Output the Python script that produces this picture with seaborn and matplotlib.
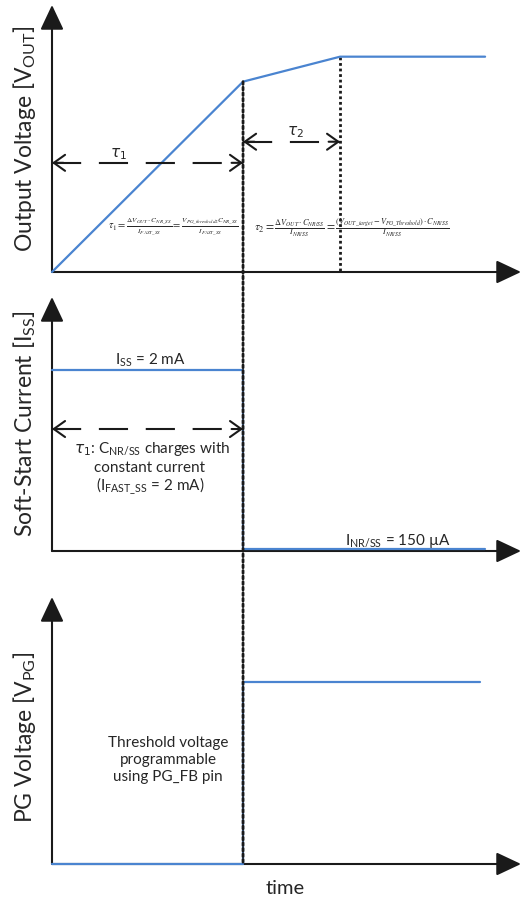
import matplotlib
matplotlib.use("Agg")
import matplotlib.pyplot as plt
import seaborn as sns
import pandas as pd
from matplotlib.patches import ConnectionPatch

# ---------------- data (schematic timing diagram, arbitrary units) ----------------
time_vout = [0.0, 1.0, 1.508, 2.267]
vout = [0.0, 0.884, 1.0, 1.0]
time_iss = [0.0, 1.0, 1.0, 2.267]
iss_mA = [2.0, 2.0, 0.022, 0.022]
time_pg = [0.0, 1.0, 1.0, 2.241]
vpg = [0.0, 0.0, 1.0, 1.0]
t_axis_end = 2.455
y_tops = [1.24, 2.807, 1.467]

ylabels = [r"Output Voltage [V$_\mathregular{OUT}$]",
           r"Soft-Start Current [I$_\mathregular{SS}$]",
           r"PG Voltage [V$_\mathregular{PG}$]"]
xlabel = "time"

BLUE = "#4a84d0"
W, H = 521, 901

sns.set_theme(style="white")
plt.rcParams["font.family"] = ["Lato", "DejaVu Sans"]
plt.rcParams["mathtext.fontset"] = "dejavusans"

fig = plt.figure(figsize=(W / 100, H / 100), dpi=100)
fig.patch.set_facecolor("white")


def add_ax(y_origin, y_tip):
    return fig.add_axes([52 / W, 1 - y_origin / H, (W - 52) / W, (y_origin - y_tip) / H])


ax1 = add_ax(272, 5)
ax2 = add_ax(551, 297)
ax3 = add_ax(864, 597)
axes = [ax1, ax2, ax3]

frames = [pd.DataFrame({"t": time_vout, "v": vout}),
          pd.DataFrame({"t": time_iss, "v": iss_mA}),
          pd.DataFrame({"t": time_pg, "v": vpg})]

for ax, df, top in zip(axes, frames, y_tops):
    sns.lineplot(data=df, x="t", y="v", ax=ax, sort=False, estimator=None,
                 color=BLUE, lw=1.6, clip_on=False, zorder=5)
    ax.set_xlim(0, t_axis_end)
    ax.set_ylim(0, top)
    ax.set_axis_off()
    for xy in [(0, 1), (1, 0)]:
        ax.annotate("", xy=xy, xytext=(0, 0), xycoords="axes fraction",
                    textcoords="axes fraction",
                    arrowprops=dict(arrowstyle="-|>,head_length=0.85,head_width=0.4",
                                    mutation_scale=18, lw=1.5, color="k",
                                    shrinkA=0, shrinkB=0), zorder=4)

# ---------------- dotted verticals ----------------
dot_style = dict(color="k", lw=2.0, linestyle=(0, (1.0, 1.0)))
con = ConnectionPatch(xyA=(time_vout[1], vout[1]), coordsA=ax1.transData,
                      xyB=(time_pg[1], 0), coordsB=ax3.transData, **dot_style)
con.set_zorder(0.5)
fig.add_artist(con)
ax1.plot([time_vout[2], time_vout[2]], [vout[2], 0], clip_on=False, zorder=3, **dot_style)


# ---------------- dashed tau arrows ----------------
def tau_arrow(ax, x0, x1, y):
    ax.plot([x0, x1], [y, y], color="k", lw=1.5, linestyle=(0, (14, 8.5)),
            clip_on=False, zorder=6, dash_capstyle="butt")
    d = 0.06
    for tip, tail in [(x0, x0 + d), (x1, x1 - d)]:
        ax.annotate("", xy=(tip, y), xytext=(tail, y), xycoords="data",
                    arrowprops=dict(arrowstyle="->,head_length=0.45,head_width=0.32",
                                    mutation_scale=18, lw=1.5, color="k",
                                    shrinkA=0, shrinkB=0),
                    annotation_clip=False, zorder=6)


tau_arrow(ax1, 0.0, time_vout[1], 0.507)
tau_arrow(ax1, time_vout[1], time_vout[2], 0.605)
tau_arrow(ax2, 0.0, time_iss[1], 1.348)


# ---------------- texts ----------------
def T(x, y, s, **kw):
    kw.setdefault("ha", "center")
    kw.setdefault("va", "center")
    return fig.text(x / W, 1 - y / H, s, **kw)


T(25, 139, ylabels[0], rotation=90, fontsize=16.5)
T(25, 424, ylabels[1], rotation=90, fontsize=16.5)
T(25, 737, ylabels[2], rotation=90, fontsize=16.5)
T(285, 888, xlabel, fontsize=14.5)

T(118, 154, r"$\tau_1$", fontsize=11)
T(295, 132, r"$\tau_2$", fontsize=11)

T(173, 227, r"$\tau_1=\frac{\Delta V_{OUT}\cdot C_{NR\_SS}}{I_{FAST\_SS}}"
            r"=\frac{V_{PG\_threshold2}C_{NR\_SS}}{I_{FAST\_SS}}$",
  fontsize=7.5, math_fontfamily="stix")
T(352, 228, r"$\tau_2=\frac{\Delta V_{OUT}\cdot C_{NR/SS}}{I_{NR/SS}}"
            r"=\frac{\left(V_{OUT\_target}-V_{PG\_Threshold}\right)\cdot C_{NR/SS}}{I_{NR/SS}}$",
  fontsize=8.5, math_fontfamily="stix")

T(150, 360, r"I$_\mathregular{SS}$ = 2 mA", fontsize=11)
T(152, 449, r"$\tau_1$: C$_\mathregular{NR/SS}$ charges with", fontsize=11)
T(150, 468, "constant current", fontsize=11)
T(150, 486, r"(I$_\mathregular{FAST\_SS}$ = 2 mA)", fontsize=11)
T(398, 541, r"I$_\mathregular{NR/SS}$ = 150 µA", fontsize=11)

T(168, 743, "Threshold voltage", fontsize=11)
T(168, 760, "programmable", fontsize=11)
T(168, 777, "using PG_FB pin", fontsize=11)

fig.savefig("out.png", dpi=100, facecolor="white")
